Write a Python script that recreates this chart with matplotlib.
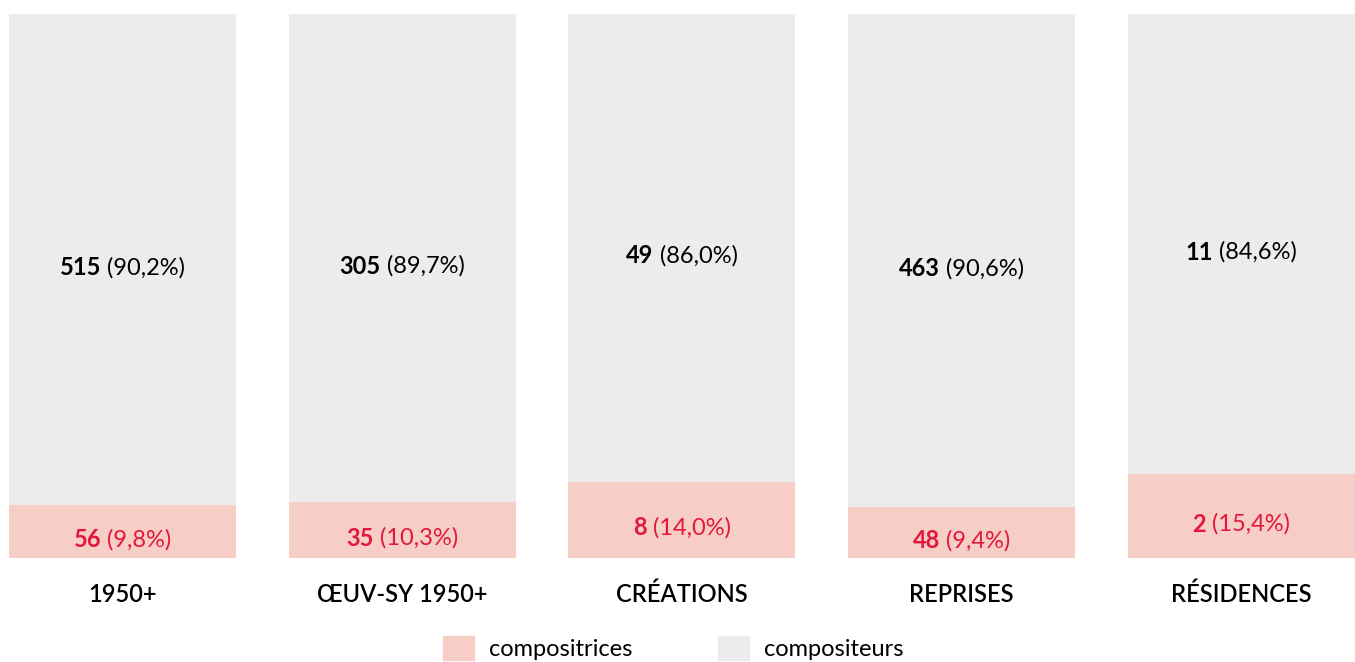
import matplotlib.pyplot as plt
import numpy as np
from matplotlib.patches import Patch

plt.rcParams['font.family'] = ['Lato', 'DejaVu Sans']

# Data
categories = ["1950+", "ŒUV-SY 1950+", "CRÉATIONS", "REPRISES", "RÉSIDENCES"]
compositrices = [56, 35, 8, 48, 2]
compositeurs = [515, 305, 49, 463, 11]

red = '#E3173E'
pink = '#F6CEC5'
grey = '#ECECEC'

women = np.array(compositrices, dtype=float)
men = np.array(compositeurs, dtype=float)
total = women + men
pct_w = women / total * 100
pct_m = men / total * 100

fig = plt.figure(figsize=(13.55, 6.62), dpi=100)
ax = fig.add_axes([0, 104 / 662, 1, 544 / 662])

x = np.arange(len(categories))
width = 0.8116
ax.bar(x, pct_w, width, color=pink, label='compositrices')
ax.bar(x, pct_m, width, bottom=pct_w, color=grey, label='compositeurs')

ax.set_xlim(-0.438, 4.406)
ax.set_ylim(0, 100)
ax.axis('off')

renderer = fig.canvas.get_renderer()


def fr(v):
    return f"{v:.1f}".replace('.', ',')


def label(xc, yc, count, pct, color):
    # bold count followed by lighter percentage, centred as one piece
    t1 = ax.text(xc, yc, str(count), fontsize=17, fontweight='bold', color=color,
                 ha='left', va='center')
    t2 = ax.text(xc, yc, f" ({fr(pct)}%)", fontsize=17, fontweight='normal', color=color,
                 ha='left', va='center')
    w1 = t1.get_window_extent(renderer).width
    w2 = t2.get_window_extent(renderer).width
    inv = ax.transData.inverted()
    x0_px = ax.transData.transform((xc, yc))[0] - (w1 + w2) / 2
    t1.set_x(inv.transform((x0_px, 0))[0])
    t2.set_x(inv.transform((x0_px + w1, 0))[0])


for i in range(len(categories)):
    label(x[i], pct_w[i] / 2 - 1.5, compositrices[i], pct_w[i], red)
    label(x[i], pct_w[i] + pct_m[i] / 2 - 1.5, compositeurs[i], pct_m[i], 'black')
    ax.text(x[i], -8.1, categories[i], fontsize=17, fontweight='semibold',
            ha='center', va='baseline', color='black')

handles = [Patch(color=pink, label='compositrices'), Patch(color=grey, label='compositeurs')]
fig.legend(handles=handles, loc='center', bbox_to_anchor=(0.497, 0.021), ncol=2,
           frameon=False, fontsize=17, handlelength=1.3, handleheight=1.2,
           handletextpad=0.65, columnspacing=3.6)

fig.savefig('out.png', dpi=100)
